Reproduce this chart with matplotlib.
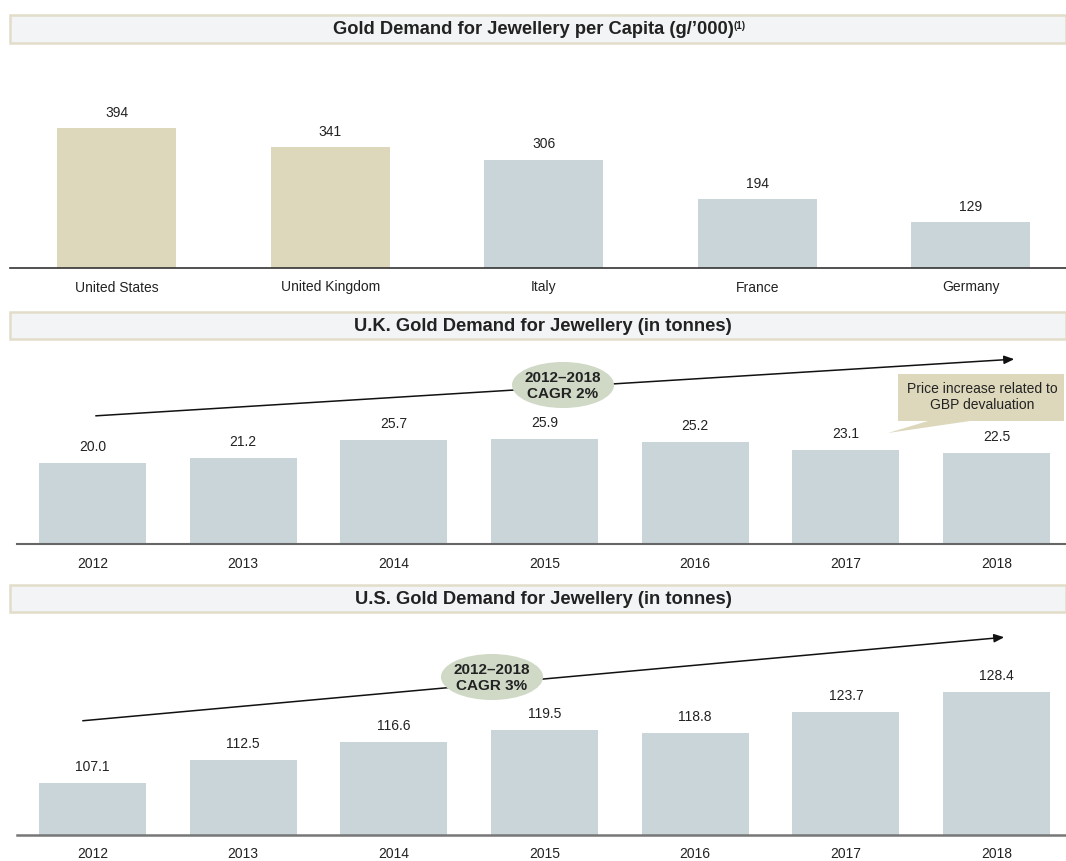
import matplotlib
matplotlib.use("Agg")
import matplotlib.pyplot as plt
from matplotlib.patches import Rectangle, Ellipse, Polygon, FancyArrowPatch

plt.rcParams['font.family'] = ['Liberation Sans', 'DejaVu Sans']

# ---- data ----
countries = ["United States", "United Kingdom", "Italy", "France", "Germany"]
per_capita = [394, 341, 306, 194, 129]
per_capita_labels = ["394", "341", "306", "194", "129"]
years = ["2012", "2013", "2014", "2015", "2016", "2017", "2018"]
uk_tonnes = [20.0, 21.2, 25.7, 25.9, 25.2, 23.1, 22.5]
us_tonnes = [107.1, 112.5, 116.6, 119.5, 118.8, 123.7, 128.4]

titles = ["Gold Demand for Jewellery per Capita (g/\u2019000)",
          "U.K. Gold Demand for Jewellery (in tonnes)",
          "U.S. Gold Demand for Jewellery (in tonnes)"]
uk_cagr = "2012\u20132018\nCAGR 2%"
us_cagr = "2012\u20132018\nCAGR 3%"
callout = "Price increase related to\nGBP devaluation"

TAN = "#ddd8bb"
GREY = "#c9d5d8"
ELL = "#cfd9c6"

W, H = 1066, 861
fig = plt.figure(figsize=(W / 100, H / 100), dpi=100)

def ax_px(left, top, right, bottom):
    return fig.add_axes([left / W, 1 - bottom / H, (right - left) / W, (bottom - top) / H])

# overlay for decorations in pixel coords
ov = fig.add_axes([0, 0, 1, 1])
ov.set_xlim(0, W)
ov.set_ylim(H, 0)
ov.axis("off")
ov.set_zorder(5)
ov.patch.set_alpha(0)

def header(y0, y1, text, cx, sup=False):
    ov.add_patch(Rectangle((10, y0), W - 10, y1 - y0, facecolor="#f3f4f6",
                           edgecolor="#e2ddc9", lw=1.8))
    ov.text(cx, (y0 + y1) / 2 + 1, text, ha="center", va="center",
            fontsize=13.2, fontweight="bold", color="#222222")
    if sup:
        ov.text(734, (y0 + y1) / 2 - 3, "(1)", ha="left", va="center",
                fontsize=7, fontweight="bold", color="#222222")

header(15, 43, titles[0], 533, sup=True)
header(312, 339, titles[1], 543)
header(585, 612, titles[2], 543)

def style(ax, color="#444444", lw=1.2):
    for s in ["top", "right", "left"]:
        ax.spines[s].set_visible(False)
    ax.spines["bottom"].set_color(color)
    ax.spines["bottom"].set_linewidth(lw)
    ax.set_yticks([])
    ax.tick_params(axis="x", length=0, pad=9, labelsize=10, colors="#222222")
    ax.patch.set_alpha(0)

# ---- panel 1 ----
ax1 = ax_px(10, 60, W, 268)
colors1 = [TAN, TAN, GREY, GREY, GREY]
x1 = list(range(len(countries)))
ax1.bar(x1, per_capita, width=0.557, color=colors1)
ax1.set_xlim(-0.5, 4.446)
ax1.set_ylim(0, 587)
ax1.set_xticks(x1, countries)
for xi, v, lab in zip(x1, per_capita, per_capita_labels):
    ax1.annotate(lab, (xi, v), xytext=(0, 11), textcoords="offset points",
                 ha="center", va="center", fontsize=10, color="#222222")
style(ax1, "#333333", 1.2)

# ---- panel 2 ----
ax2 = ax_px(17, 350, W, 544)
x2 = list(range(len(years)))
ax2.bar(x2, uk_tonnes, width=0.71, color=GREY)
ax2.set_xlim(-0.5, 6.46)
ax2.set_ylim(0, 47.9)
ax2.set_xticks(x2, years)
for xi, v in zip(x2, uk_tonnes):
    ax2.annotate(f"{v:.1f}", (xi, v), xytext=(0, 11.5), textcoords="offset points",
                 ha="center", va="center", fontsize=10, color="#222222")
style(ax2, "#666666", 1.5)

# ---- panel 3 ----
ax3 = ax_px(17, 625, W, 835)
ax3.bar(x2, us_tonnes, width=0.71, color=GREY)
ax3.set_xlim(-0.5, 6.46)
ax3.set_ylim(94.9, 144.1)
ax3.set_xticks(x2, years)
for xi, v in zip(x2, us_tonnes):
    ax3.annotate(f"{v:.1f}", (xi, v), xytext=(0, 11.5), textcoords="offset points",
                 ha="center", va="center", fontsize=10, color="#222222")
style(ax3, "#777777", 1.8)

# ---- decorations: trend arrows, ellipses, callout ----
def trend(p0, p1, ec, txt):
    ov.add_patch(FancyArrowPatch(p0, p1, arrowstyle="-|>,head_length=6,head_width=2.5",
                                 color="#111111", lw=1.1, mutation_scale=1))
    ov.add_patch(Ellipse(ec, 102, 46, facecolor=ELL, edgecolor="none", zorder=6))
    ov.text(ec[0], ec[1] + 1, txt, ha="center", va="center", fontsize=11,
            fontweight="bold", color="#222222", zorder=7, linespacing=1.1)

trend((93, 416), (1017, 359), (563, 385), uk_cagr)
trend((80, 721), (1007, 637), (492, 677), us_cagr)

ov.add_patch(Polygon([(898, 374), (1064, 374), (1064, 421), (970, 421),
                      (888, 433), (928, 421), (898, 421)],
                     closed=True, facecolor="#ddd8bc", edgecolor="none"))
ov.text(982, 397, callout, ha="center", va="center", fontsize=10,
        color="#222222", linespacing=1.2)

fig.savefig("out.png", dpi=100)
